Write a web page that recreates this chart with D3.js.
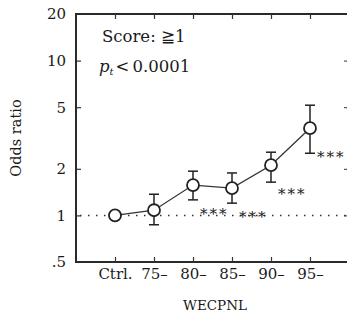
<!DOCTYPE html>
<html>
<head>
<meta charset="utf-8">
<script src="https://cdn.jsdelivr.net/npm/d3@7"></script>
<style>
  body { margin: 0; background: #fff; }
  text { font-family: "DejaVu Serif", "Liberation Serif", serif; fill: #1a1a1a; }
</style>
</head>
<body>
<script>
// data
const groups = ["Ctrl.", "75–", "80–", "85–", "90–", "95–"];
const odds   = [1.0, 1.08, 1.57, 1.50, 2.11, 3.66];
const lower  = [null, 0.87, 1.26, 1.20, 1.64, 2.52];
const upper  = [null, 1.37, 1.93, 1.88, 2.56, 5.15];
const stars  = ["", "", "***", "***", "***", "***"];
const yTicks = [0.5, 1, 2, 5, 10, 20];
const yTickLabels = [".5", "1", "2", "5", "10", "20"];

const w = 347, h = 321;
const mLeft = 76, mRight = 349, mTop = 14, mBottom = 262;

const svg = d3.select("body").append("svg")
  .attr("width", w).attr("height", h);

const x = d3.scalePoint().domain(groups).range([115, 310]);
const y = d3.scaleLog().domain([0.5, 20]).range([mBottom, mTop]);

// frame
svg.append("rect")
  .attr("x", mLeft).attr("y", mTop)
  .attr("width", mRight - mLeft).attr("height", mBottom - mTop)
  .attr("fill", "none").attr("stroke", "#2a2a2a").attr("stroke-width", 2);

// left axis
const yAxis = d3.axisLeft(y).tickValues(yTicks)
  .tickFormat((d, i) => yTickLabels[i]).tickSizeInner(-5).tickSizeOuter(0).tickPadding(10);
const gy = svg.append("g").attr("transform", `translate(${mLeft},0)`).call(yAxis);
gy.select(".domain").remove();
gy.selectAll("line").attr("stroke", "#333").attr("stroke-width", 1.2)
  .filter(d => d === 0.5 || d === 20).remove();
gy.selectAll("text").attr("font-size", 15).attr("fill", "#1a1a1a");

// right axis ticks
const gr = svg.append("g").attr("transform", `translate(${mRight},0)`)
  .call(d3.axisRight(y).tickValues([1, 2, 5, 10]).tickSizeInner(-5).tickSizeOuter(0).tickFormat(""));
gr.select(".domain").remove();
gr.selectAll("line").attr("stroke", "#333");

// bottom axis
const gx = svg.append("g").attr("transform", `translate(0,${mBottom})`)
  .call(d3.axisBottom(x).tickSizeInner(-5).tickSizeOuter(0).tickPadding(6));
gx.select(".domain").remove();
gx.selectAll("line").attr("stroke", "#333").attr("stroke-width", 1.2);
gx.selectAll("text").attr("font-size", 15).attr("fill", "#1a1a1a");

// top axis ticks
const gt = svg.append("g").attr("transform", `translate(0,${mTop})`)
  .call(d3.axisTop(x).tickSizeInner(-5).tickSizeOuter(0).tickFormat(""));
gt.select(".domain").remove();
gt.selectAll("line").attr("stroke", "#333").attr("stroke-width", 1.2);

// reference line at 1
svg.append("line")
  .attr("x1", mLeft + 4).attr("x2", mRight)
  .attr("y1", y(1)).attr("y2", y(1))
  .attr("stroke", "#333").attr("stroke-width", 1.5)
  .attr("stroke-dasharray", "1.5,6.5");

// error bars
const eb = svg.append("g").selectAll("g")
  .data(groups.map((g, i) => ({g, lo: lower[i], hi: upper[i]})).filter(d => d.lo != null))
  .join("g").attr("stroke", "#222").attr("stroke-width", 1.5);
eb.append("line")
  .attr("x1", d => x(d.g)).attr("x2", d => x(d.g))
  .attr("y1", d => y(d.lo)).attr("y2", d => y(d.hi));
eb.append("line")
  .attr("x1", d => x(d.g) - 5).attr("x2", d => x(d.g) + 5)
  .attr("y1", d => y(d.lo)).attr("y2", d => y(d.lo));
eb.append("line")
  .attr("x1", d => x(d.g) - 5).attr("x2", d => x(d.g) + 5)
  .attr("y1", d => y(d.hi)).attr("y2", d => y(d.hi));

// connecting line
svg.append("path")
  .datum(groups.map((g, i) => [x(g), y(odds[i])]))
  .attr("d", d3.line())
  .attr("fill", "none").attr("stroke", "#333").attr("stroke-width", 1.3);

// points
svg.append("g").selectAll("circle")
  .data(groups)
  .join("circle")
  .attr("cx", d => x(d)).attr("cy", (d, i) => y(odds[i]))
  .attr("r", 6)
  .attr("fill", "#fff").attr("stroke", "#222").attr("stroke-width", 1.8);

// significance stars
svg.append("g").selectAll("text")
  .data(groups)
  .join("text")
  .attr("x", d => x(d) + 7)
  .attr("y", (d, i) => y(odds[i]) + 34)
  .attr("font-size", 15)
  .attr("letter-spacing", 2)
  .text((d, i) => stars[i]);

// annotations
svg.append("text").attr("x", 102).attr("y", 42).attr("font-size", 16.5)
  .text("Score: ≧1");
const pt = svg.append("text").attr("x", 99).attr("y", 72).attr("font-size", 16.5);
pt.append("tspan").attr("font-style", "italic").text("p");
pt.append("tspan").attr("font-style", "italic").attr("font-size", 10).attr("dy", 3).text("t");
pt.append("tspan").attr("dy", -3).attr("dx", 2).text("<");
pt.append("tspan").attr("dx", 3).text("0.0001");

// axis titles
svg.append("text")
  .attr("transform", "translate(21,138) rotate(-90)")
  .attr("text-anchor", "middle").attr("font-size", 14.5)
  .text("Odds ratio");
svg.append("text")
  .attr("x", 215).attr("y", 310)
  .attr("text-anchor", "middle").attr("font-size", 13.5)
  .text("WECPNL");
</script>
</body>
</html>
